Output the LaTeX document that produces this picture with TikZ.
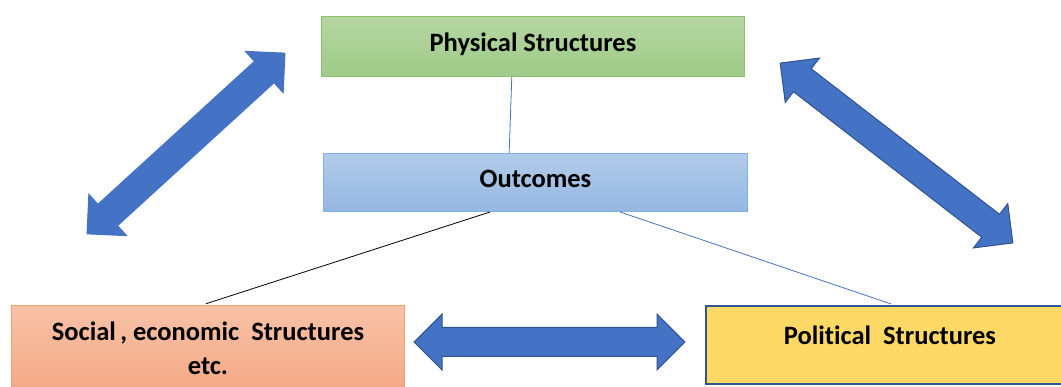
\documentclass[tikz,border=0pt]{standalone}
\usepackage{fontspec}
\setmainfont{Carlito}[Ligatures=NoCommon]
\usepackage{tikz}
\usetikzlibrary{calc}
\usetikzlibrary{shapes.arrows}
\tikzset{>=latex}

\definecolor{arrowblue}{HTML}{4472C4}
\definecolor{arrowedge}{HTML}{2F528F}
\definecolor{linkblue}{HTML}{4472C4}
\definecolor{greentop}{HTML}{B6D6A3}
\definecolor{greenbot}{HTML}{9FCB87}
\definecolor{greenedge}{HTML}{8CC06E}
\definecolor{bluetop}{HTML}{B2CCEA}
\definecolor{bluebot}{HTML}{94B7E1}
\definecolor{blueedge}{HTML}{86AEE0}
\definecolor{salmontop}{HTML}{F8C2A8}
\definecolor{salmonbot}{HTML}{F4A885}
\definecolor{salmonedge}{HTML}{F0A46C}
\definecolor{yellowfill}{HTML}{FFD966}
\definecolor{yellowedge}{HTML}{2F5597}

\tikzset{
  box/.style={rectangle, inner sep=0pt, align=center, line width=1pt,
    font=\fontsize{26.5}{34}\selectfont\bfseries},
  bigarrow/.style={double arrow, fill=arrowblue, draw=arrowedge, line width=1pt,
    inner sep=0pt, inner ysep=14pt, minimum width=55pt,
    double arrow head extend=13.5pt},
  link/.style={line width=0.8pt}
}

\begin{document}
\begin{tikzpicture}[x=1pt,y=-1pt]
  \useasboundingbox (0,0) rectangle (1061,387);

  \node [box, top color=greentop, bottom color=greenbot, draw=greenedge,
    minimum width=423pt, minimum height=60pt, text depth=8pt] (phys) at (533,46.5)
    {Physical Structures};

  \node [box, top color=bluetop, bottom color=bluebot, draw=blueedge,
    minimum width=424pt, minimum height=58pt, text depth=8pt] (outc) at (535.5,182.5)
    {Outcomes};

  \node [box, top color=salmontop, bottom color=salmonbot, draw=salmonedge,
    minimum width=393pt, minimum height=86pt] (social) at (208,348.5)
    {Social\,, economic~ Structures\\etc.};

  \node [box, fill=yellowfill, draw=yellowedge, line width=2pt,
    minimum width=368pt, minimum height=78pt, text depth=20pt] (polit) at (890,345)
    {Political~ Structures};

  \draw [link, linkblue] ($(phys.south west)!0.45!(phys.south east)$)
    -- ($(outc.north west)!0.438!(outc.north east)$);
  \draw [link, black, shorten >=4pt] ($(outc.south west)!0.393!(outc.south east)$)
    -- ($(social.north west)!0.485!(social.north east)$);
  \draw [link, linkblue, shorten >=3pt] ($(outc.south west)!0.699!(outc.south east)$)
    -- ($(polit.north west)!0.511!(polit.north east)$);

  \node [bigarrow, draw=arrowblue, minimum height=268pt, rotate=42.4]
    (arrowleft) at (186,143.5) {};
  \node [bigarrow, minimum height=294pt, rotate=-37.7]
    (arrowright) at (896.5,153) {};
  \node [bigarrow, minimum height=271pt]
    (arrowbottom) at (549.5,342) {};
\end{tikzpicture}
\end{document}
